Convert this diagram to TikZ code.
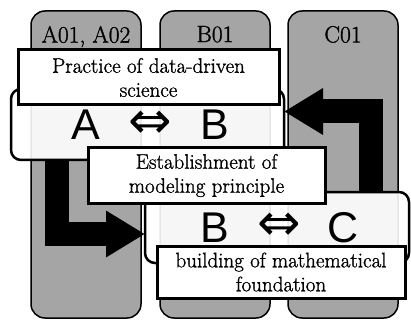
\documentclass[tikz,border=0pt]{standalone}
\usepackage{fontspec}
\newfontfamily\boxfont[FakeBold=1.2]{Latin Modern Roman}
\newfontfamily\bigsans{Liberation Sans}
\newfontfamily\symsans{DejaVu Sans}
\usetikzlibrary{positioning,arrows.meta}
\definecolor{colgray}{RGB}{165,165,165}
\tikzset{
  column/.style={draw, line width=1.5pt, fill=colgray, rounded corners=14pt, minimum width=110pt, minimum height=307pt, anchor=north},
  collabel/.style={font=\boxfont\fontsize{23.5}{25}\selectfont, inner sep=0pt},
  band/.style={draw, line width=2.5pt, fill=white, fill opacity=0.9, rounded corners=10pt, minimum height=71pt},
  textbox/.style={draw, line width=3pt, fill=white, align=center, font=\boxfont\fontsize{21}{24}\selectfont, inner sep=0pt, minimum height=55pt},
  letter/.style={font=\bigsans\fontsize{43}{43}\selectfont, inner sep=0pt},
  equiv/.style={font=\symsans\fontsize{52}{52}\selectfont, inner sep=0pt},
  bigarrow/.style={line width=24pt, line join=miter, -{Triangle[length=39pt,width=44pt]}}
}

\begin{document}
\begin{tikzpicture}[x=1pt,y=-1pt,outer sep=0pt]
    \useasboundingbox (0,0) rectangle (411,320);
    % columns
    \node (colA) [column] at (86,11) {};
    \node (colB) [column] at (215,11) {};
    \node (colC) [column] at (343,11) {};
    \node [collabel, below=15pt of colA.north] {A01, A02};
    \node [collabel, below=15pt of colB.north] {B01};
    \node [collabel, below=15pt of colC.north] {C01};
    % bands
    \node (bandA) [band, minimum width=273pt] at (147.5,124.5) {};
    \node (bandB) [band, minimum width=264pt] at (277,227.5) {};
    % arrows
    \coordinate (turnA) at (56.5,234);
    \coordinate (turnC) at (371,111.5);
    \draw[bigarrow] (bandA.south -| turnA) |- (bandB.west |- turnA);
    \draw[bigarrow] (bandB.north -| turnC) |- (bandA.east |- turnC);
    % boxes
    \node (practice) [textbox, minimum width=261pt] at (148.5,77.5)
    {Practice of data-driven\\science};
    \node (modeling) [textbox, minimum width=237pt] at (206.5,175.5)
    {Establishment of\\modeling principle};
    \node (mathfound) [textbox, minimum width=248pt, minimum height=52pt] at (281,272)
    {building of mathematical\\foundation};
    % letters
    \node (lA1) [letter] at (colA |- bandA) {A};
    \node (eq1) [equiv] at (150.5,124.5) {⇔};
    \node (lB1) [letter] at (colB |- bandA) {B};
    \node (lB2) [letter] at (colB |- bandB) {B};
    \node (eq2) [equiv] at (279,226.5) {⇔};
    \node (lC2) [letter] at (colC |- bandB) {C};
\end{tikzpicture}
\end{document}
